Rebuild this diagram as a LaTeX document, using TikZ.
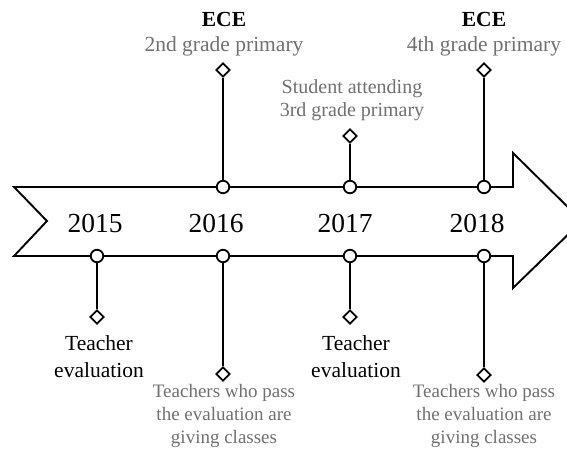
\documentclass[tikz,border=0pt]{standalone}
\usepackage{fontspec}
\setmainfont{Liberation Serif}
\usetikzlibrary{shapes.geometric}
\definecolor{labelgray}{RGB}{112,112,112}
\begin{document}
\begin{tikzpicture}[x=1pt,y=-1pt,
  dot/.style={circle,draw,fill=white,line width=1.8pt,minimum size=12.5pt,inner sep=0pt},
  gem/.style={diamond,draw,fill=white,line width=1.8pt,minimum size=14pt,inner sep=0pt},
  stem/.style={line width=1.8pt},
  band/.style={line width=1.9pt,fill=white},
  year/.style={font=\fontsize{27.5}{30}\selectfont,anchor=base,inner sep=0pt},
  toplab/.style={font=\fontsize{21.5}{25}\selectfont,text=labelgray,align=center,anchor=base,inner sep=0pt},
  midlab/.style={font=\fontsize{20}{22.5}\selectfont,text=labelgray,align=center,anchor=base,inner sep=0pt},
  evallab/.style={font=\fontsize{21.5}{27}\selectfont,align=center,anchor=base,inner sep=0pt},
  passlab/.style={font=\fontsize{19}{23}\selectfont,text=labelgray,align=center,anchor=base,inner sep=0pt}]
\useasboundingbox (0,0) rectangle (567,455);
% timeline band
\draw[band] (14,187) -- (513,187) -- (513,153) -- (582,221) -- (513,288)
  -- (513,256) -- (14,256) -- (47,221) -- cycle;
% years
\node[year] (y15) at (95,232) {2015};
\node[year] (y16) at (216,232) {2016};
\node[year] (y17) at (345,232) {2017};
\node[year] (y18) at (477,232) {2018};
% circles on the band
\node[dot] (t16) at (223,187) {};
\node[dot] (t17) at (350,187) {};
\node[dot] (t18) at (484,187) {};
\node[dot] (b15) at (97,256) {};
\node[dot] (b16) at (223,256) {};
\node[dot] (b17) at (350,256) {};
\node[dot] (b18) at (484,256) {};
% diamonds
\node[gem] (d16) at (223,70) {};
\node[gem] (d17) at (350,136) {};
\node[gem] (d18) at (484,70) {};
\node[gem] (e15) at (97,317) {};
\node[gem] (e16) at (223,374) {};
\node[gem] (e17) at (350,317) {};
\node[gem] (e18) at (484,375) {};
% stems
\draw[stem] (t16) -- (d16);
\draw[stem] (t17) -- (d17);
\draw[stem] (t18) -- (d18);
\draw[stem] (b15) -- (e15);
\draw[stem] (b16) -- (e16);
\draw[stem] (b17) -- (e17);
\draw[stem] (b18) -- (e18);
% labels
\node[toplab] (l16) at (224,51) {{\color{black}\bfseries ECE}\\2nd grade primary};
\node[toplab] (l18) at (484,51) {{\color{black}\bfseries ECE}\\4th grade primary};
\node[midlab] (l17) at (352,116) {Student attending\\3rd grade primary};
\node[evallab] (m15) at (99,377) {Teacher\\evaluation};
\node[evallab] (m17) at (356,377) {Teacher\\evaluation};
\node[passlab] (m16) at (224,443) {Teachers who pass\\the evaluation are\\giving classes};
\node[passlab] (m18) at (484,443) {Teachers who pass\\the evaluation are\\giving classes};
\end{tikzpicture}
\end{document}
